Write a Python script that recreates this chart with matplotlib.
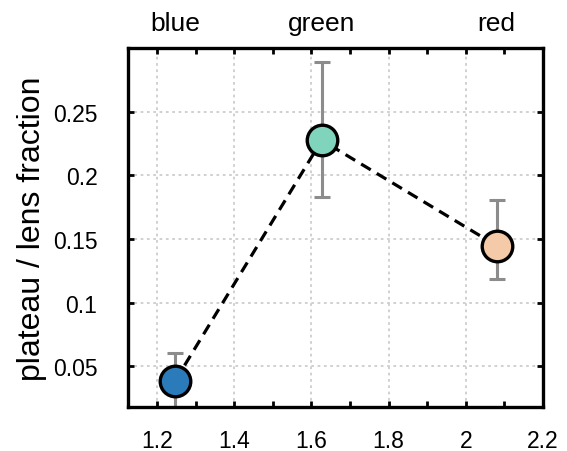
import matplotlib
matplotlib.use("Agg")
import matplotlib.pyplot as plt
from matplotlib.ticker import MultipleLocator

plt.rcParams['font.family'] = ['Liberation Sans', 'DejaVu Sans']

# data
band_names = ["blue", "green", "red"]
band_x = [1.247, 1.627, 2.080]
fraction = [0.0385, 0.2275, 0.1447]
err_low = [0.0215, 0.0445, 0.026]
err_high = [0.0217, 0.0615, 0.036]
marker_colors = ["#2b7bba", "#7fd4bb", "#f5caa8"]
x_ticks = [1.2, 1.4, 1.6, 1.8, 2.0, 2.2]
x_tick_labels = ["1.2", "1.4", "1.6", "1.8", "2", "2.2"]
y_ticks = [0.05, 0.10, 0.15, 0.20, 0.25]
y_tick_labels = ["0.05", "0.1", "0.15", "0.2", "0.25"]

fig = plt.figure(figsize=(5.67, 4.52), dpi=100)
ax = fig.add_axes([128/567, 1-408/452, (543-128)/567, (408-49)/452])

ax.errorbar(band_x, fraction, yerr=[err_low, err_high], fmt='none',
            ecolor='#8c8c8c', elinewidth=2.2, capsize=5.5, capthick=2.2, zorder=2)
ax.plot(band_x, fraction, color='black', lw=2.3, ls=(0, (3.5, 2.2)), zorder=3)
for x, y, c in zip(band_x, fraction, marker_colors):
    ax.plot([x], [y], 'o', ms=22, mfc=c, mec='black', mew=2.4, zorder=4)

ax.set_xlim(1.125, 2.2)
ax.set_ylim(0.018, 0.30)
ax.set_xticks(x_ticks)
ax.set_xticklabels(x_tick_labels)
ax.xaxis.set_minor_locator(MultipleLocator(0.1))
ax.set_yticks(y_ticks)
ax.set_yticklabels(y_tick_labels)

ax.grid(True, which='major', color='#cdcdcd', lw=1.3, ls=(0, (1.5, 2)), zorder=0)
ax.tick_params(axis='both', which='both', direction='in', top=True, right=True,
               length=4, width=2, labelsize=16.5, pad=22)
ax.tick_params(axis='x', which='both', pad=16)
for s in ax.spines.values():
    s.set_linewidth(2.4)

ax.set_ylabel("plateau / lens fraction", fontsize=23, labelpad=4)

for x, name in zip(band_x, band_names):
    ax.text(x, 1.035, name, transform=ax.get_xaxis_transform(), ha='center',
            va='bottom', fontsize=19)

fig.savefig("out.png", dpi=100)
